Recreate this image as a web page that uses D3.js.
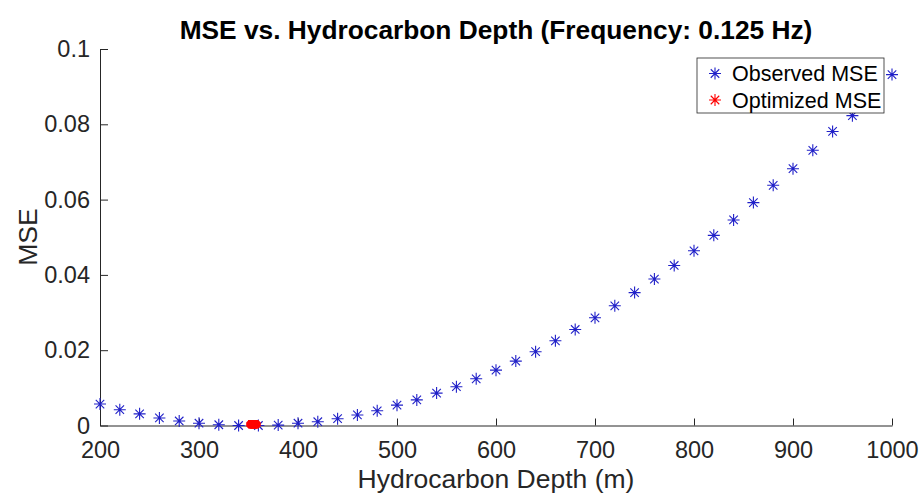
<!DOCTYPE html>
<html>
<head>
<meta charset="utf-8">
<script src="https://cdn.jsdelivr.net/npm/d3@7"></script>
<style>
  body { margin: 0; background: #fff; }
  svg { display: block; font-family: "Liberation Sans", Arial, sans-serif; }
</style>
</head>
<body>
<svg width="922" height="496"></svg>
<script>
// observed points, every 20 m
var depth = [200, 220, 240, 260, 280, 300, 320, 340, 360, 380, 400, 420, 440, 460, 480,
  500, 520, 540, 560, 580, 600, 620, 640, 660, 680, 700, 720, 740, 760, 780,
  800, 820, 840, 860, 880, 900, 920, 940, 960, 980, 1000];
var mse = [0.0057, 0.0042, 0.0031, 0.0020, 0.0012, 0.0006, 0.0002, 0.0000, 0.0000, 0.0001, 0.0006,
  0.0010, 0.0018, 0.0028, 0.0039, 0.0054, 0.0068, 0.0086, 0.0103, 0.0124, 0.0147,
  0.0171, 0.0196, 0.0225, 0.0255, 0.0286, 0.0318, 0.0353, 0.0389, 0.0425, 0.0464,
  0.0505, 0.0546, 0.0592, 0.0638, 0.0682, 0.0731, 0.0781, 0.0823, 0.0877, 0.0932];

// optimizer result (several markers stacked on top of each other)
var optDepth = [352, 353.5, 355, 356.5, 358];
var optMse = [0.0003, 0.0003, 0.0003, 0.0003, 0.0003];

var xTicks = [200, 300, 400, 500, 600, 700, 800, 900, 1000];
var yTicks = [0, 0.02, 0.04, 0.06, 0.08, 0.1];
var legendLabels = ["Observed MSE", "Optimized MSE"];

var svg = d3.select("svg");
var axisColor = "#262626";

var x = d3.scaleLinear().domain([200, 1000]).range([100, 892]);
var y = d3.scaleLinear().domain([0, 0.1]).range([425.5, 49]);

// 8 spoke asterisk like matlab '*'
function star(r) {
  var a = r * 0.7071;
  return "M" + (-r) + ",0L" + r + ",0M0," + (-r) + "L0," + r +
    "M" + (-a) + "," + (-a) + "L" + a + "," + a +
    "M" + (-a) + "," + a + "L" + a + "," + (-a);
}

// axes
var xAxis = svg.append("g")
  .attr("transform", "translate(0,425.5)")
  .call(d3.axisBottom(x).tickValues(xTicks).tickSizeInner(-7).tickSizeOuter(0).tickPadding(16)
    .tickFormat(d3.format("d")));
var yAxis = svg.append("g")
  .attr("transform", "translate(100,0)")
  .call(d3.axisLeft(y).tickValues(yTicks).tickSizeInner(-8).tickSizeOuter(0).tickPadding(10)
    .tickFormat(function(d){ return d === 0 ? "0" : d3.format("~g")(d); }));

[xAxis, yAxis].forEach(function(g){
  g.select(".domain").attr("stroke", axisColor).attr("stroke-width", 1);
  g.selectAll(".tick line").attr("stroke", axisColor);
  g.selectAll(".tick text").attr("fill", axisColor).attr("font-size", 23.5);
});

// observed
svg.append("g").selectAll("path")
  .data(depth)
  .join("path")
  .attr("d", star(6))
  .attr("transform", function(d, i){ return "translate(" + x(d) + "," + y(mse[i]) + ")"; })
  .attr("stroke", "#2020c8")
  .attr("stroke-width", 1.1)
  .attr("fill", "none");

// optimized
svg.append("g").selectAll("path")
  .data(optDepth)
  .join("path")
  .attr("d", star(4.3))
  .attr("transform", function(d, i){ return "translate(" + x(d) + "," + y(optMse[i]) + ")"; })
  .attr("stroke", "#ff0000")
  .attr("stroke-width", 3.5)
  .attr("fill", "none");

// title and labels
svg.append("text")
  .attr("x", 496).attr("y", 39)
  .attr("text-anchor", "middle")
  .attr("font-size", 26.3).attr("font-weight", "bold")
  .attr("fill", "#000")
  .text("MSE vs. Hydrocarbon Depth (Frequency: 0.125 Hz)");

svg.append("text")
  .attr("x", 496).attr("y", 488)
  .attr("text-anchor", "middle")
  .attr("font-size", 26.5).attr("fill", axisColor)
  .text("Hydrocarbon Depth (m)");

svg.append("text")
  .attr("transform", "translate(37,237) rotate(-90)")
  .attr("text-anchor", "middle")
  .attr("font-size", 26.5).attr("fill", axisColor)
  .text("MSE");

// legend
var leg = svg.append("g").attr("transform", "translate(697,58)");
leg.append("rect")
  .attr("width", 187).attr("height", 55)
  .attr("fill", "#fff").attr("stroke", axisColor).attr("stroke-width", 0.8);
var legColors = ["#2020c8", "#ff0000"];
legendLabels.forEach(function(t, i){
  var yy = 15.5 + i * 26.5;
  leg.append("path")
    .attr("d", star(6))
    .attr("transform", "translate(18," + yy + ")")
    .attr("stroke", legColors[i]).attr("stroke-width", 1.1).attr("fill", "none");
  leg.append("text")
    .attr("x", 35).attr("y", yy)
    .attr("dy", "0.35em")
    .attr("font-size", 21.5).attr("fill", "#000")
    .text(t);
});
</script>
</body>
</html>
